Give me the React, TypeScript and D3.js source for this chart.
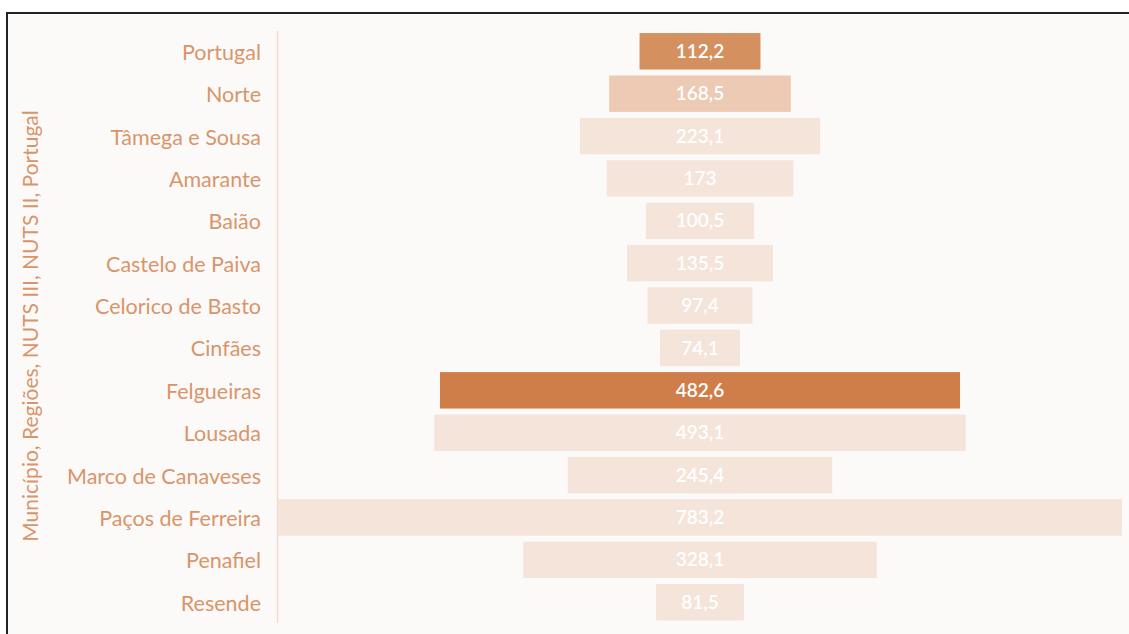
import React from "react";
import * as d3 from "d3";

const categories = [
  "Portugal", "Norte", "Tâmega e Sousa", "Amarante", "Baião", "Castelo de Paiva",
  "Celorico de Basto", "Cinfães", "Felgueiras", "Lousada", "Marco de Canaveses",
  "Paços de Ferreira", "Penafiel", "Resende",
];
const values = [112.2, 168.5, 223.1, 173, 100.5, 135.5, 97.4, 74.1, 482.6, 493.1, 245.4, 783.2, 328.1, 81.5];
const axisTitle = "Município, Regiões, NUTS III, NUTS II, Portugal";

const W = 1129, H = 634;
const colorFor = (c: string) =>
  c === "Portugal" ? "#d4905e" : c === "Norte" ? "#edcab3" : c === "Felgueiras" ? "#cf7e4a" : "#f5e4da";

export default function App() {
  const y = d3.scaleBand<string>().domain(categories).range([30.1, 623.4]).paddingInner(0.14).paddingOuter(0.07);
  const w = d3.scaleLinear().domain([0, 783.2]).range([0, 844]);
  const cx = 700;
  const fmt = (v: number) => String(v).replace(".", ",");
  return (
    <svg width={W} height={H} style={{ position: "absolute", left: 0, top: 0, background: "#fff" }}>
      <rect x={7} y={13} width={W + 10} height={H + 10} fill="#fcfaf9" stroke="#222" strokeWidth={2} />
      <line x1={277.5} x2={277.5} y1={31} y2={623} stroke="#f3dccd" strokeWidth={1.5} />
      {categories.map((c, i) => {
        const by = y(c)!;
        const bw = w(values[i]);
        return (
          <g key={c}>
            <rect x={cx - bw / 2} y={by} width={bw} height={y.bandwidth()} fill={colorFor(c)} />
            <text x={cx} y={by + y.bandwidth() / 2} dy="0.35em" textAnchor="middle" fill="#fff"
              fontFamily="Lato, sans-serif" fontSize={19} fontWeight={600}>{fmt(values[i])}</text>
            <text x={261} y={by + y.bandwidth() / 2 + 1} dy="0.35em" textAnchor="end" fill="#d99569"
              fontFamily="Lato, sans-serif" fontSize={21.5}>{c}</text>
          </g>
        );
      })}
      <text transform={`translate(38,326) rotate(-90)`} textAnchor="middle" fill="#d99569"
        fontFamily="Lato, sans-serif" fontSize={21}>{axisTitle}</text>
    </svg>
  );
}
